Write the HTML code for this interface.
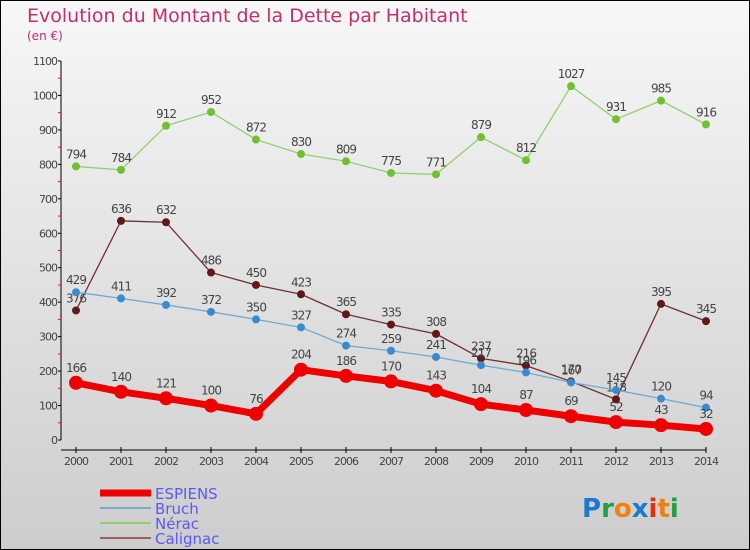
<!DOCTYPE html>
<html><head><meta charset="utf-8"><style>
body{margin:0;width:750px;height:550px;overflow:hidden}
svg{display:block;font-family:"DejaVu Sans","Liberation Sans",sans-serif}
</style></head><body>
<svg id="c" width="750" height="550">
<defs><linearGradient id="bg" x1="0" y1="0" x2="0" y2="1"><stop offset="0" stop-color="#f7f7f7"/><stop offset="1" stop-color="#cdcdcd"/></linearGradient></defs>
<rect x="0.5" y="0.5" width="749" height="549" fill="url(#bg)" stroke="#000"/>
<text x="27" y="22" font-size="19" fill="#c0306a">Evolution du Montant de la Dette par Habitant</text>
<text x="27" y="40" font-size="12" fill="#c0306a">(en €)</text>
<g id="axes"></g><g id="series"></g>
<g>
<line x1="100" y1="493" x2="151" y2="493" stroke="#ee0000" stroke-width="7"/>
<text x="155" y="499" font-size="15" fill="#5a5af0">ESPIENS</text>
<line x1="100" y1="508" x2="151" y2="508" stroke="#7aaac8" stroke-width="2"/>
<text x="155" y="514" font-size="15" fill="#5a5af0">Bruch</text>
<line x1="100" y1="523" x2="151" y2="523" stroke="#90d070" stroke-width="2"/>
<text x="155" y="529" font-size="15" fill="#5a5af0">Nérac</text>
<line x1="100" y1="538" x2="151" y2="538" stroke="#986060" stroke-width="2"/>
<text x="155" y="544" font-size="15" fill="#5a5af0">Calignac</text>
</g>
<text x="582" y="517" font-size="26" font-weight="bold"><tspan fill="#1a7ad0">P</tspan><tspan fill="#20a040">r</tspan><tspan fill="#f08010">o</tspan><tspan fill="#1a7ad0">x</tspan><tspan fill="#e03010">i</tspan><tspan fill="#f08010">t</tspan><tspan fill="#20a040">i</tspan></text>
</svg>
<script>
const years=[2000,2001,2002,2003,2004,2005,2006,2007,2008,2009,2010,2011,2012,2013,2014];
const yTicks=[0,100,200,300,400,500,600,700,800,900,1000,1100];
const espiens=[166,140,121,100,76,204,186,170,143,104,87,69,52,43,32];
const bruch=[429,411,392,372,350,327,274,259,241,217,196,167,145,120,94];
const nerac=[794,784,912,952,872,830,809,775,771,879,812,1027,931,985,916];
const calignac=[376,636,632,486,450,423,365,335,308,237,216,170,118,395,345];
const NS="http://www.w3.org/2000/svg";
const x=i=>76+i*45, y=v=>440-v*379/1100;
function mk(t,a,p){const e=document.createElementNS(NS,t);for(const k in a)e.setAttribute(k,a[k]);p.appendChild(e);return e;}
const ax=document.getElementById('axes'), se=document.getElementById('series');
let l=mk('line',{x1:61,y1:y(1100),x2:61,y2:440,stroke:'#000'},ax);


yTicks.forEach(v=>{
 mk('line',{x1:58,y1:y(v),x2:61,y2:y(v),stroke:'#000'},ax);
 if(v<1100) mk('line',{x1:58,y1:y(v+50),x2:61,y2:y(v+50),stroke:'#e02020'},ax);
 const t=mk('text',{x:57,y:y(v)+4,'text-anchor':'end','font-size':11,fill:'#444','letter-spacing':'-1'},ax);t.textContent=v;
 
 
});
l=mk('line',{x1:61,y1:450,x2:706,y2:450,stroke:'#000'},ax);


years.forEach((yr,i)=>{
 mk('line',{x1:x(i),y1:447,x2:x(i),y2:453,stroke:'#000'},ax);
 const t=mk('text',{x:x(i),y:465,'text-anchor':'middle','font-size':11,fill:'#444','letter-spacing':'-1'},ax);t.textContent=yr;
 
 
});
function draw(d,name,col,w,r,dot){
 const g=mk('g',{},se);
 
 
 const p=mk('polyline',{points:d.map((v,i)=>x(i)+','+y(v)).join(' '),fill:'none',stroke:col,'stroke-width':w,'stroke-linejoin':'round'},g);
 
 
 d.forEach((v,i)=>{
  const c=mk('circle',{cx:x(i),cy:y(v),r:r,fill:dot},g);
  
  
  const t=mk('text',{x:x(i),y:y(v)-r-4,'text-anchor':'middle','font-size':12,fill:'#444','letter-spacing':'-1'},g);t.textContent=v;
  
  
 });
}
draw(nerac,'nerac','#90d070',1.3,4,'#70c030');
draw(calignac,'calignac','#703030',1.3,4,'#601818');
draw(bruch,'bruch','#6aaad8',1.3,4,'#3a8ad0');
draw(espiens,'espiens','#ee0000',7,7,'#ee0000');
</script>
</body></html>
